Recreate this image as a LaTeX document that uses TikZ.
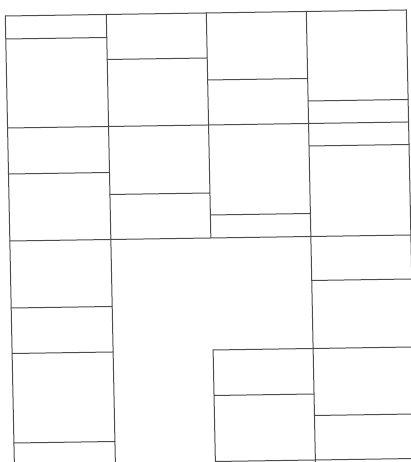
\documentclass[tikz,border=0pt]{standalone}
\begin{document}
\begin{tikzpicture}[x=1pt,y=-1pt,
  gridline/.style={draw=black!70, line width=1pt, line cap=round}]
\useasboundingbox (0,0) rectangle (411,462);
\clip (0,0) rectangle (411,462);
% slightly skewed sheet, logical coordinates (u,v) with v downwards
\begin{scope}[cm={1,0.015,-0.0202,1,(5.3pt,-16pt)}]
  % outer frame and columns
  \draw[gridline] (0,0) -- (401,0);
  \draw[gridline] (0,0) -- (0,480);
  \draw[gridline] (101,0) -- (101,480);
  \draw[gridline] (201,0) -- (201,225);
  \draw[gridline] (201,337) -- (201,480);
  \draw[gridline] (301,0) -- (301,480);
  \draw[gridline] (401,0) -- (401,480);
  % full-width rows
  \draw[gridline] (0,112) -- (401,112);
  \draw[gridline] (0,225) -- (401,225);
  % top row subdivisions
  \draw[gridline] (0,23) -- (101,23);
  \draw[gridline] (101,45) -- (201,45);
  \draw[gridline] (201,67) -- (301,67);
  \draw[gridline] (301,89.5) -- (401,89.5);
  % middle row subdivisions
  \draw[gridline] (301,134.5) -- (401,134.5);
  \draw[gridline] (0,158) -- (101,158);
  \draw[gridline] (101,180) -- (201,180);
  \draw[gridline] (201,202) -- (301,202);
  % lower region
  \draw[gridline] (0,292) -- (101,292);
  \draw[gridline] (0,337.5) -- (101,337.5);
  \draw[gridline] (0,427) -- (101,427);
  \draw[gridline] (301,269) -- (401,269);
  \draw[gridline] (201,337) -- (401,337);
  \draw[gridline] (201,382.5) -- (301,382.5);
  \draw[gridline] (301,404) -- (401,404);
  \draw[gridline] (201,448.5) -- (401,448.5);
\end{scope}
\end{tikzpicture}
\end{document}
